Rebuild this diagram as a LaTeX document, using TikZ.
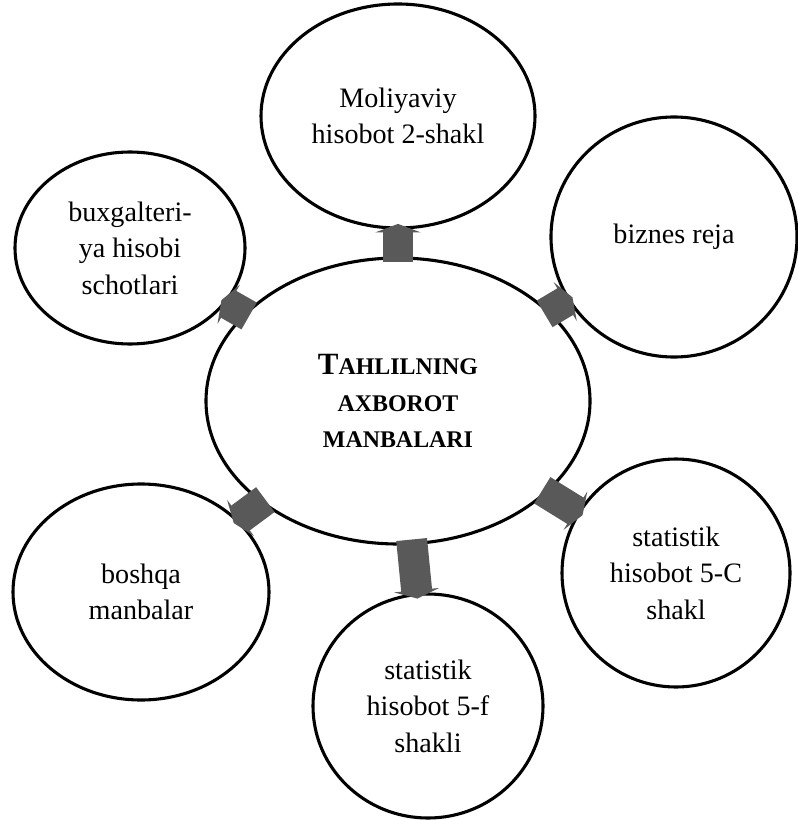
\documentclass[tikz,border=0pt]{standalone}
\usepackage{fontspec}
\setmainfont{Liberation Serif}
\usetikzlibrary{shapes.geometric}
\usetikzlibrary{arrows.meta}

\tikzset{
  source/.style={draw, ellipse, fill=white, line width=2.2pt, inner sep=0pt,
    align=center, font=\fontsize{20}{26}\selectfont},
  sz/.style 2 args={minimum width=#1*0.025cm, minimum height=#2*0.025cm},
  flow/.style={draw=black!65, line width=22pt,
    -{Triangle[length=6pt,width=32pt]}, shorten <=-4pt, shorten >=-4pt},
}
\newcommand{\bigsc}[2]{{\fontsize{22}{26}\selectfont #1}{\fontsize{17}{26}\selectfont #2}}

\begin{document}
\begin{tikzpicture}[x=0.025cm,y=-0.025cm]
\useasboundingbox (0,0) rectangle (797,820);
% sources around the centre
\node[source,sz={274}{224}] (form2) at (398,116) {Moliyaviy\\hisobot 2-shakl};
\node[source,sz={246}{240}] (plan) at (674,237) {biznes reja};
\node[source,sz={230}{192}] (acc) at (130,248) {buxgalteri-\\ya hisobi\\schotlari};
\node[source,sz={256}{216}] (other) at (141,592) {boshqa\\manbalar};
\node[source,sz={228}{228}] (stat5c) at (676,573) {statistik\\hisobot 5-C\\shakl};
\node[source,sz={230}{224}] (stat5f) at (428,706) {statistik\\hisobot 5-f\\shakli};
\node[source,sz={384}{286},font={\fontsize{20}{26}\selectfont\bfseries}] (info) at (398,401)
  {\bigsc{T}{AHLILNING}\\\bigsc{}{AXBOROT}\\\bigsc{}{MANBALARI}};
% arrows
\draw[flow] (info) -- (form2);
\draw[flow] (info) -- (plan);
\draw[flow] (info) -- (acc);
\draw[flow] (info) -- (other);
\draw[flow] (info) -- (stat5c);
\draw[flow] (info) -- (stat5f);
\end{tikzpicture}
\end{document}
